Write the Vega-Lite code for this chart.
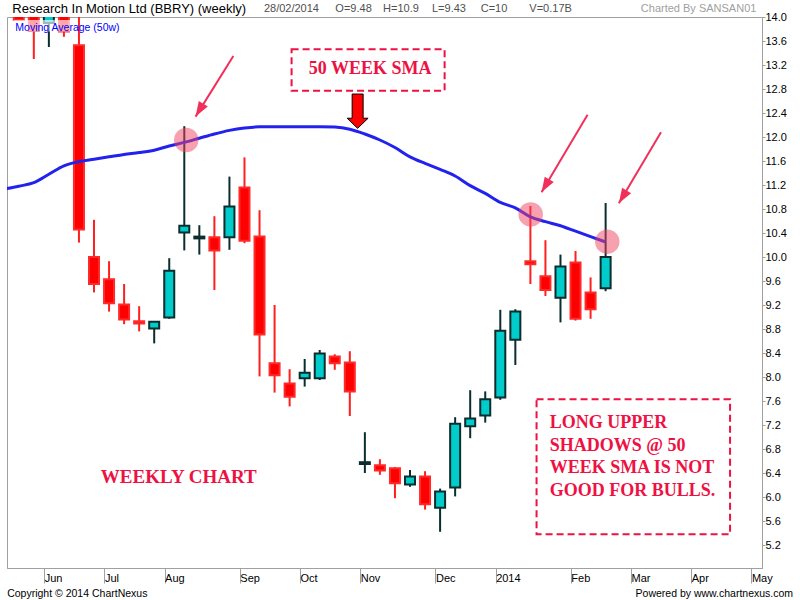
{
  "$schema": "https://vega.github.io/schema/vega-lite/v6.json",
  "width": 755,
  "height": 551,
  "autosize": "none",
  "padding": {"left": 7, "top": 17, "right": 38, "bottom": 32},
  "background": "white",
  "config": {
    "view": {"stroke": "#a0a0a0", "strokeWidth": 1},
    "font": "Liberation Sans",
    "axis": {"labelOverlap": false, "labelFlush": false, "labelBound": false, "grid": false, "title": null}
  },
  "datasets": {
    "candles": [
      {"w": -2, "o": 14.30, "h": 14.40, "l": 13.95, "c": 13.95},
      {"w": -1, "o": 14.20, "h": 14.35, "l": 13.30, "c": 13.77},
      {"w": 0, "o": 13.90, "h": 14.35, "l": 13.50, "c": 14.20},
      {"w": 1, "o": 14.10, "h": 14.30, "l": 13.67, "c": 13.76},
      {"w": 2, "o": 13.53, "h": 14.30, "l": 10.24, "c": 10.46},
      {"w": 3, "o": 10.00, "h": 10.62, "l": 9.41, "c": 9.55},
      {"w": 4, "o": 9.63, "h": 9.93, "l": 9.09, "c": 9.23},
      {"w": 5, "o": 9.21, "h": 9.55, "l": 8.88, "c": 8.96},
      {"w": 6, "o": 8.93, "h": 9.18, "l": 8.76, "c": 8.89},
      {"w": 7, "o": 8.81, "h": 8.93, "l": 8.56, "c": 8.92},
      {"w": 8, "o": 8.99, "h": 9.98, "l": 8.97, "c": 9.77},
      {"w": 9, "o": 10.41, "h": 12.18, "l": 10.11, "c": 10.52},
      {"w": 10, "o": 10.31, "h": 10.53, "l": 10.04, "c": 10.34},
      {"w": 11, "o": 10.33, "h": 10.68, "l": 9.45, "c": 10.11},
      {"w": 12, "o": 10.33, "h": 11.34, "l": 10.12, "c": 10.84},
      {"w": 13, "o": 11.16, "h": 11.66, "l": 10.23, "c": 10.27},
      {"w": 14, "o": 10.34, "h": 10.78, "l": 8.01, "c": 8.71},
      {"w": 15, "o": 8.23, "h": 9.20, "l": 7.74, "c": 8.03},
      {"w": 16, "o": 7.89, "h": 8.13, "l": 7.51, "c": 7.67},
      {"w": 17, "o": 7.98, "h": 8.30, "l": 7.84, "c": 8.07},
      {"w": 18, "o": 7.98, "h": 8.45, "l": 7.95, "c": 8.39},
      {"w": 19, "o": 8.34, "h": 8.38, "l": 8.12, "c": 8.23},
      {"w": 20, "o": 8.24, "h": 8.43, "l": 7.35, "c": 7.76},
      {"w": 21, "o": 6.55, "h": 7.08, "l": 6.40, "c": 6.58},
      {"w": 22, "o": 6.53, "h": 6.63, "l": 6.37, "c": 6.44},
      {"w": 23, "o": 6.48, "h": 6.50, "l": 5.98, "c": 6.23},
      {"w": 24, "o": 6.21, "h": 6.45, "l": 6.17, "c": 6.34},
      {"w": 25, "o": 6.34, "h": 6.43, "l": 5.79, "c": 5.88},
      {"w": 26, "o": 5.82, "h": 6.14, "l": 5.42, "c": 6.09},
      {"w": 27, "o": 6.16, "h": 7.33, "l": 6.01, "c": 7.22},
      {"w": 28, "o": 7.18, "h": 7.78, "l": 6.98, "c": 7.31},
      {"w": 29, "o": 7.36, "h": 7.76, "l": 7.24, "c": 7.63},
      {"w": 30, "o": 7.66, "h": 9.12, "l": 7.62, "c": 8.77},
      {"w": 31, "o": 8.62, "h": 9.13, "l": 8.20, "c": 9.09},
      {"w": 32, "o": 9.93, "h": 10.85, "l": 9.55, "c": 9.88},
      {"w": 33, "o": 9.68, "h": 10.28, "l": 9.35, "c": 9.45},
      {"w": 34, "o": 9.32, "h": 10.04, "l": 8.91, "c": 9.84},
      {"w": 35, "o": 9.91, "h": 10.10, "l": 8.94, "c": 8.97},
      {"w": 36, "o": 9.41, "h": 9.66, "l": 8.97, "c": 9.13},
      {"w": 37, "o": 9.48, "h": 10.90, "l": 9.43, "c": 10.00}
    ],
    "sma": [
      {"w": -3, "sma": 11.13}, {"w": -2, "sma": 11.18}, {"w": -1, "sma": 11.24},
      {"w": 0, "sma": 11.38}, {"w": 1, "sma": 11.52}, {"w": 2, "sma": 11.59},
      {"w": 3, "sma": 11.63}, {"w": 4, "sma": 11.67}, {"w": 5, "sma": 11.71},
      {"w": 6, "sma": 11.74}, {"w": 7, "sma": 11.78}, {"w": 8, "sma": 11.85},
      {"w": 9, "sma": 11.91}, {"w": 10, "sma": 11.98}, {"w": 11, "sma": 12.05},
      {"w": 12, "sma": 12.11}, {"w": 13, "sma": 12.15}, {"w": 14, "sma": 12.17},
      {"w": 15, "sma": 12.17}, {"w": 16, "sma": 12.17}, {"w": 17, "sma": 12.17},
      {"w": 18, "sma": 12.17}, {"w": 19, "sma": 12.165}, {"w": 20, "sma": 12.13},
      {"w": 21, "sma": 12.05}, {"w": 22, "sma": 11.95}, {"w": 23, "sma": 11.825},
      {"w": 24, "sma": 11.67}, {"w": 25, "sma": 11.56}, {"w": 26, "sma": 11.46},
      {"w": 27, "sma": 11.35}, {"w": 28, "sma": 11.19}, {"w": 29, "sma": 11.06},
      {"w": 30, "sma": 10.91}, {"w": 31, "sma": 10.82}, {"w": 32, "sma": 10.67},
      {"w": 33, "sma": 10.59}, {"w": 34, "sma": 10.52}, {"w": 35, "sma": 10.43},
      {"w": 36, "sma": 10.34}, {"w": 37, "sma": 10.25}
    ],
    "circles": [
      {"w": 9.13, "v": 11.95},
      {"w": 32.02, "v": 10.71},
      {"w": 37.11, "v": 10.255}
    ],
    "arrows": [
      {"w": 12.26, "v": 13.35, "w2": 9.75, "v2": 12.34},
      {"w": 35.80, "v": 12.37, "w2": 32.74, "v2": 11.08},
      {"w": 40.68, "v": 12.08, "w2": 37.88, "v2": 10.895}
    ],
    "boxes": [
      {"w": 16.13, "w2": 26.30, "v": 13.462, "v2": 12.772},
      {"w": 32.41, "w2": 45.27, "v": 7.628, "v2": 5.378}
    ],
    "notes": [
      {"t": "50 WEEK SMA", "w": 17.27, "v": 13.05},
      {"t": "LONG UPPER", "w": 33.29, "v": 7.155},
      {"t": "SHADOWS @ 50", "w": 33.29, "v": 6.772},
      {"t": "WEEK SMA IS NOT", "w": 33.29, "v": 6.395},
      {"t": "GOOD FOR BULLS.", "w": 33.29, "v": 6.012}
    ],
    "header": [
      {"t": "28/02/2014", "w": 14.29, "v": 14.078},
      {"t": "O=9.48", "w": 19.04, "v": 14.078},
      {"t": "H=10.9", "w": 22.21, "v": 14.078},
      {"t": "L=9.43", "w": 25.46, "v": 14.078},
      {"t": "C=10", "w": 28.70, "v": 14.078},
      {"t": "V=0.17B", "w": 31.93, "v": 14.078}
    ]
  },
  "layer": [
    {
      "data": {"name": "candles"},
      "mark": {"type": "rule", "strokeWidth": 2, "clip": true},
      "encoding": {
        "x": {
          "field": "w",
          "type": "quantitative",
          "title": null,
          "scale": {"domain": [-2.45, 47.06], "nice": false, "zero": false},
          "axis": {
            "orient": "bottom",
            "title": null,
            "grid": false,
            "values": [-0.31, 3.69, 7.69, 12.69, 16.69, 20.69, 25.69, 29.69, 34.69, 38.69, 42.69, 46.69],
            "tickCount": 40,
            "labelExpr": "datum.value < 2 ? 'Jun' : datum.value < 5 ? 'Jul' : datum.value < 10 ? 'Aug' : datum.value < 14 ? 'Sep' : datum.value < 18 ? 'Oct' : datum.value < 23 ? 'Nov' : datum.value < 27 ? 'Dec' : datum.value < 32 ? '2014' : datum.value < 36 ? 'Feb' : datum.value < 40 ? 'Mar' : datum.value < 44 ? 'Apr' : 'May'",
            "tickSize": 15,
            "tickColor": "#a0a0a0",
            "domainColor": "#a0a0a0",
            "labelAlign": "left",
            "labelBaseline": "alphabetic",
            "labelPadding": -1.3,
            "labelDx": 1.5,
            "labelFont": "Liberation Sans",
            "labelFontSize": 11,
            "labelColor": "#000000",
            "labelOverlap": false,
            "labelBound": false,
            "labelFlush": false
          }
        },
        "y": {
          "field": "l",
          "type": "quantitative",
          "title": null,
          "scale": {"domain": [4.8167, 14.0], "nice": false, "zero": false},
          "axis": {
            "orient": "right",
            "title": null,
            "grid": false,
            "values": [5.2, 5.6, 6.0, 6.4, 6.8, 7.2, 7.6, 8.0, 8.4, 8.8, 9.2, 9.6, 10.0, 10.4, 10.8, 11.2, 11.6, 12.0, 12.4, 12.8, 13.2, 13.6, 14.0],
            "tickCount": 40,
            "format": ".1f",
            "tickSize": 3,
            "tickColor": "#a0a0a0",
            "domainColor": "#a0a0a0",
            "labelPadding": 0,
            "labelBaseline": "middle",
            "labelFont": "Liberation Sans",
            "labelFontSize": 11,
            "labelColor": "#000000",
            "labelOverlap": false,
            "labelFlush": false
          }
        },
        "y2": {"field": "h"},
        "color": {"condition": {"test": "datum.c >= datum.o", "value": "#0b2d2d"}, "value": "#ff1f1f"}
      }
    },
    {
      "data": {"name": "candles"},
      "mark": {"type": "bar", "size": 10, "strokeWidth": 2, "clip": true},
      "encoding": {
        "x": {"field": "w", "type": "quantitative", "title": null},
        "y": {"field": "o", "type": "quantitative", "title": null},
        "y2": {"field": "c"},
        "fill": {"condition": {"test": "datum.c >= datum.o", "value": "#00cccc"}, "value": "#ff0000"},
        "stroke": {"condition": {"test": "datum.c >= datum.o", "value": "#0b2d2d"}, "value": "#ff2a2a"}
      }
    },
    {
      "data": {"name": "sma"},
      "mark": {"type": "line", "color": "#2222ee", "strokeWidth": 3, "interpolate": "monotone", "clip": true},
      "encoding": {
        "x": {"field": "w", "type": "quantitative", "title": null},
        "y": {"field": "sma", "type": "quantitative", "title": null}
      }
    },
    {
      "data": {"values": [{"w": -2.36, "w2": 1.7, "v": 13.95, "v2": 13.758}]},
      "mark": {"type": "rect", "fill": "white", "opacity": 0.65},
      "encoding": {
        "x": {"field": "w", "type": "quantitative", "title": null},
        "x2": {"field": "w2"},
        "y": {"field": "v", "type": "quantitative", "title": null},
        "y2": {"field": "v2"}
      }
    },
    {
      "data": {"values": [{"t": "Moving Average (50w)", "w": -2.23, "v": 13.772}]},
      "mark": {"type": "text", "align": "left", "baseline": "alphabetic", "color": "#0000ff", "fontSize": 10.5, "font": "Liberation Sans"},
      "encoding": {
        "x": {"field": "w", "type": "quantitative", "title": null},
        "y": {"field": "v", "type": "quantitative", "title": null},
        "text": {"field": "t"}
      }
    },
    {
      "data": {"name": "circles"},
      "mark": {"type": "point", "shape": "circle", "filled": true, "size": 600, "color": "#ee4262", "opacity": 0.5},
      "encoding": {
        "x": {"field": "w", "type": "quantitative", "title": null},
        "y": {"field": "v", "type": "quantitative", "title": null}
      }
    },
    {
      "data": {"name": "arrows"},
      "mark": {"type": "rule", "color": "#f0305a", "strokeWidth": 2},
      "encoding": {
        "x": {"field": "w", "type": "quantitative", "title": null},
        "y": {"field": "v", "type": "quantitative", "title": null},
        "x2": {"field": "w2"},
        "y2": {"field": "v2"}
      }
    },
    {
      "data": {"name": "arrows"},
      "mark": {"type": "point", "shape": "M0,0L-0.35,1L0.35,1Z", "size": 900, "angle": 211, "filled": true, "color": "#f0305a", "opacity": 1},
      "encoding": {
        "x": {"field": "w2", "type": "quantitative", "title": null},
        "y": {"field": "v2", "type": "quantitative", "title": null}
      }
    },
    {
      "data": {"values": [{"w": 20.52, "v": 12.43}]},
      "mark": {"type": "point", "shape": "M-0.32,-1L0.32,-1L0.32,0.41L0.61,0.41L0,1L-0.61,0.41L-0.32,0.41Z", "size": 1176, "filled": true, "fill": "#ff0000", "stroke": "#000000", "strokeWidth": 1, "opacity": 1},
      "encoding": {
        "x": {"field": "w", "type": "quantitative", "title": null},
        "y": {"field": "v", "type": "quantitative", "title": null}
      }
    },
    {
      "data": {"name": "boxes"},
      "mark": {"type": "rect", "fill": "white", "fillOpacity": 0, "stroke": "#ee1144", "strokeWidth": 2, "strokeDash": [7, 4]},
      "encoding": {
        "x": {"field": "w", "type": "quantitative", "title": null},
        "x2": {"field": "w2"},
        "y": {"field": "v", "type": "quantitative", "title": null},
        "y2": {"field": "v2"}
      }
    },
    {
      "data": {"name": "notes"},
      "mark": {"type": "text", "align": "left", "baseline": "alphabetic", "font": "Liberation Serif", "fontWeight": "bold", "fontSize": 18, "color": "#ee1144"},
      "encoding": {
        "x": {"field": "w", "type": "quantitative", "title": null},
        "y": {"field": "v", "type": "quantitative", "title": null},
        "text": {"field": "t"}
      }
    },
    {
      "data": {"values": [{"t": "WEEKLY CHART", "w": 3.455, "v": 6.228}]},
      "mark": {"type": "text", "align": "left", "baseline": "alphabetic", "font": "Liberation Serif", "fontWeight": "bold", "fontSize": 19, "color": "#ee1144"},
      "encoding": {
        "x": {"field": "w", "type": "quantitative", "title": null},
        "y": {"field": "v", "type": "quantitative", "title": null},
        "text": {"field": "t"}
      }
    },
    {
      "data": {"values": [{"t": "Research In Motion Ltd (BBRY) (weekly)", "w": -2.43, "v": 14.072}]},
      "mark": {"type": "text", "align": "left", "baseline": "alphabetic", "font": "Liberation Sans", "fontSize": 13, "color": "#000000"},
      "encoding": {
        "x": {"field": "w", "type": "quantitative", "title": null},
        "y": {"field": "v", "type": "quantitative", "title": null},
        "text": {"field": "t"}
      }
    },
    {
      "data": {"name": "header"},
      "mark": {"type": "text", "align": "left", "baseline": "alphabetic", "font": "Liberation Sans", "fontSize": 11, "color": "#505050"},
      "encoding": {
        "x": {"field": "w", "type": "quantitative", "title": null},
        "y": {"field": "v", "type": "quantitative", "title": null},
        "text": {"field": "t"}
      }
    },
    {
      "data": {"values": [{"t": "Charted By SANSAN01", "w": 47.02, "v": 14.078}]},
      "mark": {"type": "text", "align": "right", "baseline": "alphabetic", "font": "Liberation Sans", "fontSize": 11, "color": "#a0a0a0"},
      "encoding": {
        "x": {"field": "w", "type": "quantitative", "title": null},
        "y": {"field": "v", "type": "quantitative", "title": null},
        "text": {"field": "t"}
      }
    },
    {
      "data": {"values": [{"t": "Copyright © 2014 ChartNexus", "w": -2.77, "v": 4.328}]},
      "mark": {"type": "text", "align": "left", "baseline": "alphabetic", "font": "Liberation Sans", "fontSize": 10.5, "color": "#000000"},
      "encoding": {
        "x": {"field": "w", "type": "quantitative", "title": null},
        "y": {"field": "v", "type": "quantitative", "title": null},
        "text": {"field": "t"}
      }
    },
    {
      "data": {"values": [{"t": "Powered by www.chartnexus.com", "w": 49.46, "v": 4.328}]},
      "mark": {"type": "text", "align": "right", "baseline": "alphabetic", "font": "Liberation Sans", "fontSize": 10.5, "color": "#000000"},
      "encoding": {
        "x": {"field": "w", "type": "quantitative", "title": null},
        "y": {"field": "v", "type": "quantitative", "title": null},
        "text": {"field": "t"}
      }
    }
  ]
}
